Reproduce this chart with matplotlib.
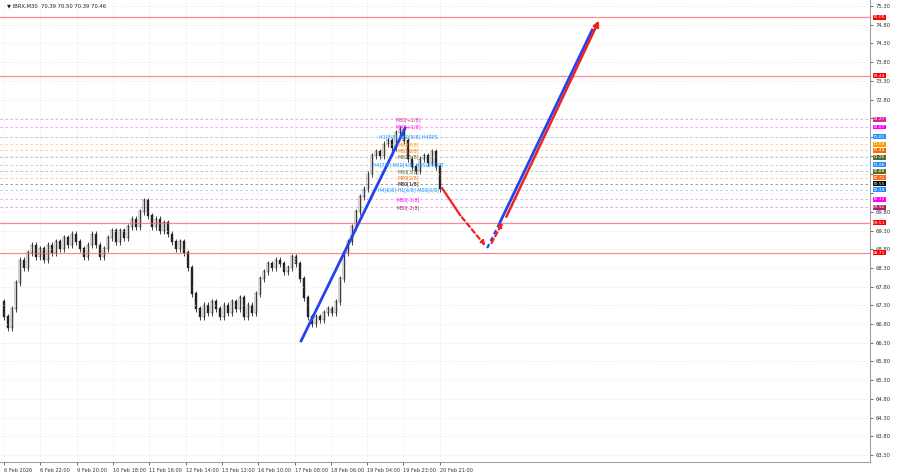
import matplotlib
matplotlib.use("Agg")
import matplotlib.pyplot as plt

closes = [67.4,67.0,66.7,67.2,67.9,68.5,68.3,68.7,68.9,68.6,
          68.8,68.5,68.9,68.7,69.0,68.8,69.1,68.9,69.2,69.0,
          68.8,68.6,68.9,69.2,68.9,68.6,68.8,69.1,69.3,69.0,
          69.3,69.1,69.4,69.6,69.4,69.8,70.1,69.7,69.4,69.6,
          69.3,69.5,69.2,69.0,68.8,69.0,68.7,68.3,67.6,67.2,
          67.0,67.3,67.1,67.4,67.2,67.0,67.3,67.1,67.4,67.2,
          67.5,67.0,67.3,67.1,67.6,68.0,68.2,68.4,68.3,68.5,
          68.4,68.2,68.3,68.6,68.4,68.0,67.5,67.0,66.8,67.0,
          66.9,67.1,67.2,67.1,67.4,68.0,68.7,69.0,69.4,69.8,
          70.2,70.4,70.8,71.3,71.4,71.3,71.6,71.7,71.5,71.9,
          72.0,71.7,71.2,71.0,70.9,71.2,71.3,71.1,71.4,71.0,70.4]

date_labels = ["6 Feb 2026","6 Feb 22:00","9 Feb 20:00","10 Feb 18:00","11 Feb 16:00",
               "12 Feb 14:00","13 Feb 12:00","16 Feb 10:00","17 Feb 08:00","18 Feb 06:00",
               "19 Feb 04:00","19 Feb 23:00","20 Feb 21:00"]
price_ticks = [63.30,63.80,64.30,64.80,65.30,65.80,66.30,66.80,67.30,67.80,68.30,68.80,
               69.30,69.80,70.30,70.80,71.30,71.80,72.30,72.80,73.30,73.80,74.30,74.80,75.30]

red_levels = [75.00, 73.44, 69.51, 68.71]
lvl_prices = [72.27,72.07,71.81,71.60,71.44,71.26,71.06,70.88,70.71,70.55,70.39,70.13,69.92]
lvl_colors = ["#cc2b9c","#ff00ff","#1e90ff","#ff9900","#ff6a00","#556b2f","#1e90ff",
              "#556b2f","#ff6a00","#000000","#1e90ff","#ff00ff","#aa2277"]
lvl_names = ["M30[+2/8]","M30[+1/8]","H1[8/8] M30[8/8] H4RES","M30[7/8]","M30[6/8]","M30[5/8]",
             "H4[7/8] M30[4/8] H1SUPPORT","M30[3/8]","M30[2/8]","M30[1/8]","H4[6/8] H1[6/8] M30[0/8]",
             "M30[-1/8]","M30[-2/8]"]

fig = plt.figure(figsize=(9,4.74), dpi=100)
ax = fig.add_axes([0.0, 0.025, 0.967, 0.975])
ax.set_xlim(0, 217.5)
ax.set_ylim(63.11, 75.46)
for s in ["top","left"]:
    ax.spines[s].set_visible(False)
for s in ["right","bottom"]:
    ax.spines[s].set_color("#888888"); ax.spines[s].set_linewidth(0.6)

xt = [(4+36.3*k)/4 for k in range(len(date_labels))]
ax.set_xticks(xt)
ax.set_xticklabels(date_labels, fontsize=3.6, color="#333333", ha="left")
ax.yaxis.tick_right()
ax.set_yticks(price_ticks)
ax.set_yticklabels(["" if 70.0 < p < 72.5 else f"{p:.2f}" for p in price_ticks],
                   fontsize=3.8, color="#333333")
ax.tick_params(length=2, width=0.4, pad=2)
ax.grid(True, color="#e6e6e6", linewidth=0.5, linestyle=(0,(2,2)))

for i in range(1, len(closes)):
    o, c = closes[i-1], closes[i]
    ax.vlines(i, min(o,c)-0.08, max(o,c)+0.08, color="#222222", linewidth=0.6)
    ax.bar(i, abs(c-o)+0.02, bottom=min(o,c), width=0.6,
           color="white" if c >= o else "#222222", edgecolor="#222222", linewidth=0.3)

for p in red_levels:
    ax.axhline(p, color="#ff5566", linewidth=0.9, alpha=0.7)
    ax.text(1.003, p, f"{p:.2f}", transform=ax.get_yaxis_transform(), fontsize=3.2, color="white",
            va="center", ha="left", bbox=dict(boxstyle="square,pad=0.08", fc="#ff0000", ec="none"))
for p, c, n in zip(lvl_prices, lvl_colors, lvl_names):
    ax.axhline(p, color=c, linewidth=0.6, linestyle=(0,(3,3)), alpha=0.45)
    ax.text(1.003, p, f"{p:.2f}", transform=ax.get_yaxis_transform(), fontsize=3.2, color="white",
            va="center", ha="left", bbox=dict(boxstyle="square,pad=0.08", fc=c, ec="none"))
    ax.text(102, p, n, fontsize=3.4, color=c, va="center", ha="center")

ax.plot([75.25, 101.25], [66.35, 72.04], color="#2244ee", linewidth=2)
ax.plot([110.5, 115], [70.43, 69.71], color="#ee2222", linewidth=1.6)
ax.annotate("", xy=(121.75, 68.83), xytext=(115, 69.71),
            arrowprops=dict(arrowstyle="-|>", color="#ee2222", lw=1.6, linestyle=(0,(2,1.5)), mutation_scale=6))
ax.plot([121.75, 125], [68.83, 69.53], color="#2244ee", linewidth=1.6, linestyle=(0,(2,1.5)))
ax.plot([125, 148], [69.53, 74.66], color="#2244ee", linewidth=2)
ax.annotate("", xy=(126, 69.58), xytext=(122.5, 68.9),
            arrowprops=dict(arrowstyle="-|>", color="#ee2222", lw=1.6, linestyle=(0,(2,1.5)), mutation_scale=6))
ax.annotate("", xy=(150, 74.98), xytext=(126.25, 69.6),
            arrowprops=dict(arrowstyle="-|>", color="#ee2222", lw=1.8, mutation_scale=8))

fig.text(0.008, 0.993, "▼ IBRX,M30  70.39 70.50 70.39 70.46", fontsize=3.8, color="#222222", va="top")
fig.savefig("out.png", dpi=100)
